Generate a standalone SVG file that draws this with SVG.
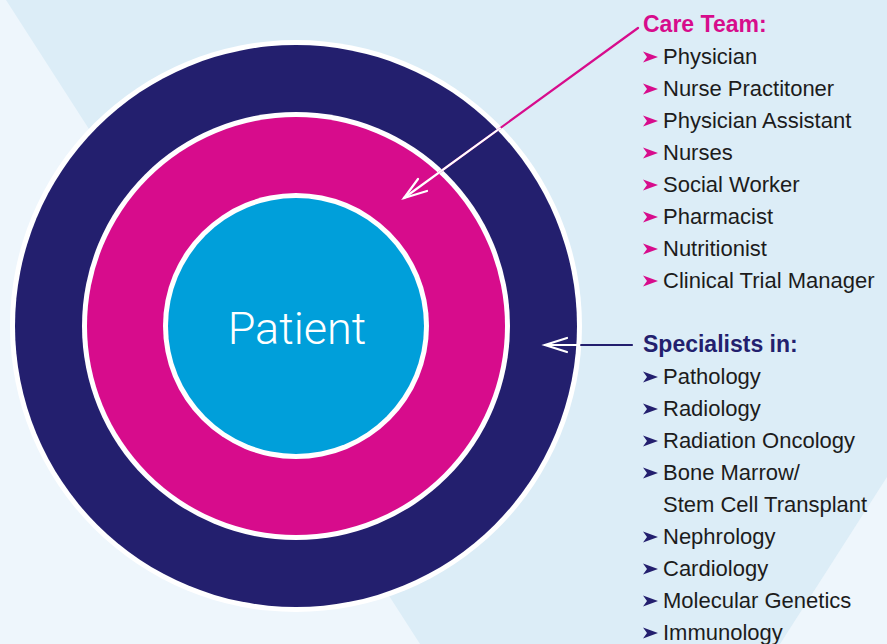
<svg xmlns="http://www.w3.org/2000/svg" width="887" height="644" viewBox="0 0 887 644">
  <style>
    .item { font-family: "Liberation Sans", Arial, sans-serif; font-size: 22px; fill: #1c1c1c; }
    .head { font-family: "Liberation Sans", Arial, sans-serif; font-size: 23px; font-weight: bold; }
    .patient { font-family: Roboto, "Liberation Sans", sans-serif; font-size: 45px; font-weight: 300; fill: #ffffff; }
    .bm { fill: #d70c8c; }
    .bn { fill: #231f6e; }
  </style>
  <defs>
    <polygon id="bullet" points="0,-5.5 15,0 0,5.5 4,0"/>
    <clipPath id="outerClip"><circle cx="296" cy="326" r="285"/></clipPath>
  </defs>

  <!-- background -->
  <rect x="0" y="0" width="887" height="644" fill="#dcedf7"/>
  <polygon points="0,0 6,0 420,644 0,644" fill="#eef6fc"/>
  <polygon points="887,477 887,644 780,644" fill="#eef6fc"/>

  <!-- rings -->
  <g id="specialists-ring">
    <circle cx="296" cy="326" r="286" fill="#ffffff"/>
    <circle cx="296" cy="326" r="281" fill="#231f6e"/>
  </g>
  <g id="care-team-ring">
    <circle cx="296" cy="326" r="214" fill="#ffffff"/>
    <circle cx="296" cy="326" r="209" fill="#d70c8c"/>
  </g>
  <g id="patient">
    <circle cx="296" cy="326" r="133" fill="#ffffff"/>
    <circle cx="296" cy="326" r="128" fill="#009fda"/>
    <text class="patient" x="297" y="344" text-anchor="middle">Patient</text>
  </g>

  <!-- connectors -->
  <g id="connectors" fill="none" stroke-width="2.2" stroke-linecap="round">
    <g stroke="#d70c8c">
      <line x1="638" y1="28" x2="404" y2="198"/>
    </g>
    <g stroke="#ffffff" clip-path="url(#outerClip)">
      <line x1="638" y1="28" x2="404" y2="198"/>
      <polyline points="427,191 404,198 418,179"/>
    </g>
    <g stroke="#231f6e">
      <line x1="632" y1="345" x2="545" y2="345"/>
    </g>
    <g stroke="#ffffff" clip-path="url(#outerClip)">
      <line x1="632" y1="345" x2="545" y2="345"/>
      <polyline points="567,338 545,345 567,352"/>
    </g>
  </g>

  <!-- care team list -->
  <g id="care-team-list">
    <text class="head" x="643" y="32" fill="#d70c8c">Care Team:</text>
    <use href="#bullet" class="bm" x="643" y="57"/>
    <text class="item" x="663" y="64">Physician</text>
    <use href="#bullet" class="bm" x="643" y="89"/>
    <text class="item" x="663" y="96">Nurse Practitoner</text>
    <use href="#bullet" class="bm" x="643" y="121"/>
    <text class="item" x="663" y="128">Physician Assistant</text>
    <use href="#bullet" class="bm" x="643" y="153"/>
    <text class="item" x="663" y="160">Nurses</text>
    <use href="#bullet" class="bm" x="643" y="185"/>
    <text class="item" x="663" y="192">Social Worker</text>
    <use href="#bullet" class="bm" x="643" y="217"/>
    <text class="item" x="663" y="224">Pharmacist</text>
    <use href="#bullet" class="bm" x="643" y="249"/>
    <text class="item" x="663" y="256">Nutritionist</text>
    <use href="#bullet" class="bm" x="643" y="281"/>
    <text class="item" x="663" y="288">Clinical Trial Manager</text>
  </g>

  <!-- specialists list -->
  <g id="specialists-list">
    <text class="head" x="643" y="352" fill="#231f6e">Specialists in:</text>
    <use href="#bullet" class="bn" x="643" y="377"/>
    <text class="item" x="663" y="384">Pathology</text>
    <use href="#bullet" class="bn" x="643" y="409"/>
    <text class="item" x="663" y="416">Radiology</text>
    <use href="#bullet" class="bn" x="643" y="441"/>
    <text class="item" x="663" y="448">Radiation Oncology</text>
    <use href="#bullet" class="bn" x="643" y="473"/>
    <text class="item" x="663" y="480">Bone Marrow/</text>
    <text class="item" x="663" y="512">Stem Cell Transplant</text>
    <use href="#bullet" class="bn" x="643" y="537"/>
    <text class="item" x="663" y="544">Nephrology</text>
    <use href="#bullet" class="bn" x="643" y="569"/>
    <text class="item" x="663" y="576">Cardiology</text>
    <use href="#bullet" class="bn" x="643" y="601"/>
    <text class="item" x="663" y="608">Molecular Genetics</text>
    <use href="#bullet" class="bn" x="643" y="633"/>
    <text class="item" x="663" y="640">Immunology</text>
  </g>
</svg>
